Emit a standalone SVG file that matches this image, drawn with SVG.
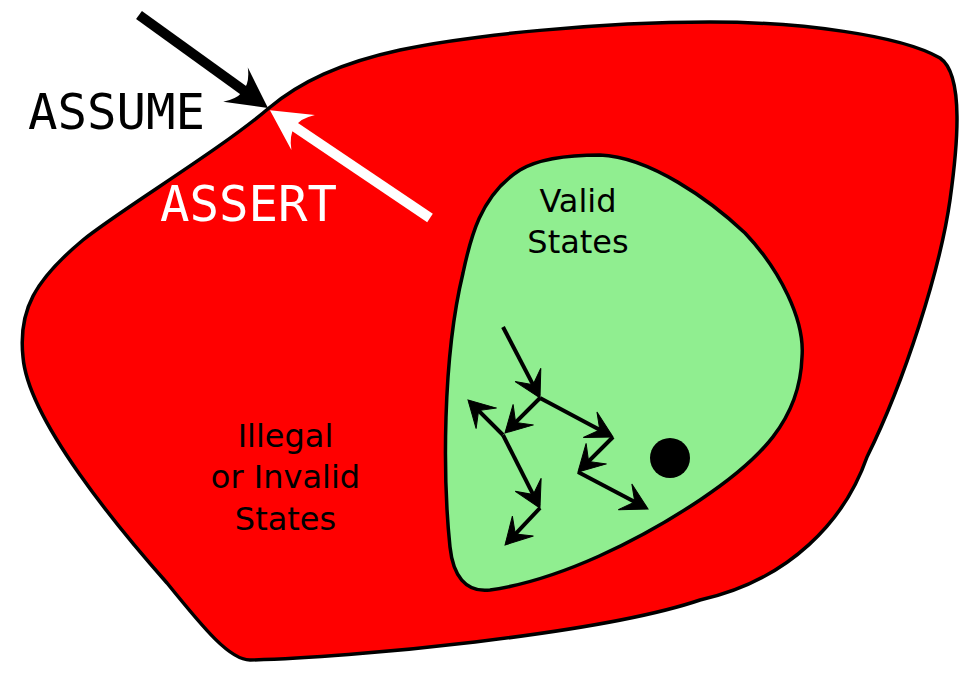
<svg xmlns="http://www.w3.org/2000/svg" width="977" height="681" viewBox="0 0 977 681">
<style>
.region{stroke:#000;stroke-width:3.5;stroke-linejoin:round}
.lbl{font-family:"DejaVu Sans",sans-serif;font-size:32px;fill:#000;text-anchor:middle}
.mono{font-family:"DejaVu Sans Mono",monospace;font-size:49px}
.walk{stroke:#000;stroke-width:4;fill:none;marker-end:url(#ah)}
</style>
<defs>
<marker id="ah" markerUnits="userSpaceOnUse" orient="auto" refX="0" refY="0" markerWidth="40" markerHeight="40" overflow="visible">
<path d="M3,0 L-23,-14.5 L-12,0 L-23,14.5 Z" fill="#000" stroke="#000" stroke-width="1" stroke-linejoin="miter"/>
</marker>
<marker id="bigb" markerUnits="userSpaceOnUse" orient="auto" refX="0" refY="0" markerWidth="60" markerHeight="60" overflow="visible">
<path d="M25,0 L-15,-21 Q5,0 -15,21 Z" fill="#000"/>
</marker>
<marker id="bigw" markerUnits="userSpaceOnUse" orient="auto" refX="0" refY="0" markerWidth="60" markerHeight="60" overflow="visible">
<path d="M25,0 L-15,-21 Q5,0 -15,21 Z" fill="#fff"/>
</marker>
</defs>
<rect width="977" height="681" fill="#fff"/>
<g id="illegal-states">
<path class="region" fill="#ff0000" d="M269,108 C300,82 340,63 400,50 C470,35 600,22 710,22 C800,22 900,35 940,58 C965,75 957,150 950,200 C940,270 905,380 867,457 C845,520 790,580 700,600 C600,634 350,658 250,660 C230,660 205,630 167,583 C120,530 28,420 23,357 C18,310 35,280 83,240 C120,210 220,150 269,108 Z"/>
<text class="lbl" x="285.5" y="446.5">Illegal</text>
<text class="lbl" x="285.5" y="488.3">or Invalid</text>
<text class="lbl" x="285.5" y="530">States</text>
</g>
<g id="valid-states">
<path class="region" fill="#90ee90" d="M600,155 C650,157 710,200 745,233 C780,270 805,320 802,357 C800,420 760,460 700,500 C640,540 560,580 490,590 C465,593 453,575 450,547 C443,480 442,360 463,273 C470,240 480,195 520,170 C540,158 570,155 600,155 Z"/>
<text class="lbl" x="578" y="211.7">Valid</text>
<text class="lbl" x="578" y="253.3">States</text>
</g>
<g id="state-dot">
<circle cx="670" cy="458" r="20" fill="#000"/>
</g>
<g id="connectors">
<line class="walk" x1="503" y1="327" x2="538.6" y2="395.3"/>
<line class="walk" x1="540" y1="398" x2="507.1" y2="430.9"/>
<line class="walk" x1="540" y1="398" x2="610.4" y2="435.6"/>
<line class="walk" x1="503" y1="435" x2="470.1" y2="402.1"/>
<line class="walk" x1="503" y1="435" x2="538.6" y2="505.3"/>
<line class="walk" x1="540" y1="508" x2="507.1" y2="542.8"/>
<line class="walk" x1="613" y1="437" x2="580.1" y2="469.9"/>
<line class="walk" x1="578" y1="472" x2="645.4" y2="507.6"/>
<line x1="139" y1="15" x2="247.7" y2="93.4" stroke="#000" stroke-width="10" marker-end="url(#bigb)"/>
<line x1="430" y1="218" x2="290.7" y2="124.1" stroke="#fff" stroke-width="10" marker-end="url(#bigw)"/>
</g>
<g id="assume-label">
<text class="mono" x="28" y="129" fill="#000">ASSUME</text>
</g>
<g id="assert-label">
<text class="mono" x="160" y="221" fill="#fff">ASSERT</text>
</g>
</svg>
